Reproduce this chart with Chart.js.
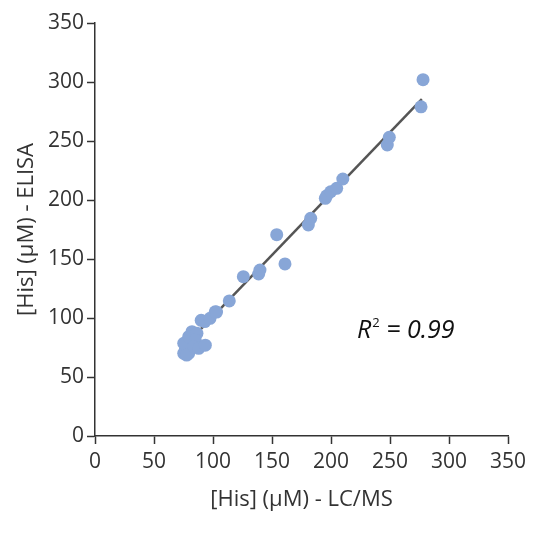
<!DOCTYPE html>
<html>
<head>
<meta charset="utf-8">
<script src="https://cdn.jsdelivr.net/npm/chart.js@4"></script>
<style>
  html, body { margin: 0; padding: 0; background: #fff; }
  #wrap { width: 552px; height: 541px; }
</style>
</head>
<body>
<div id="wrap"><canvas id="myChart" width="552" height="541"></canvas></div>
<script>
// values
const lcmsValues = [75.2, 76.6, 79.4, 75.2, 77.7, 79.4, 82.2, 86.4, 85.0, 83.6, 87.9, 93.5,
  90.0, 93.0, 97.5, 101.9, 103.0, 113.8, 125.7, 138.7, 139.8, 154.0, 161.0,
  180.8, 182.8, 195.2, 196.3, 199.7, 204.8, 210.0, 247.7, 249.4, 276.3, 278.0];
const elisaValues = [70.1, 72.9, 70.1, 78.6, 68.6, 84.2, 88.4, 87.0, 81.4, 75.7, 74.3, 77.0,
  98.0, 97.0, 99.7, 105.3, 105.0, 114.5, 135.0, 137.3, 140.7, 170.6, 145.8,
  178.8, 184.5, 201.4, 203.6, 207.0, 209.9, 217.8, 246.6, 253.1, 279.0, 302.0];
const fitX = [75, 277];
const fitY = [75.4, 285.5];
const tickValues = [0, 50, 100, 150, 200, 250, 300, 350];
const xTitle = '[His] (\u00b5M) - LC/MS';
const yTitle = '[His] (\u00b5M) - ELISA';

const pointColor = '#88a6d7';
const axisColor = '#333333';
const fontFamily = '"Open Sans", "Noto Sans", sans-serif';

const scatterData = lcmsValues.map((x, i) => ({ x: x, y: elisaValues[i] }));
const fitData = fitX.map((x, i) => ({ x: x, y: fitY[i] }));

// R² label drawn at a data position
const r2Label = {
  id: 'r2Label',
  afterDatasetsDraw(chart) {
    const ctx = chart.ctx;
    const px = chart.scales.x.getPixelForValue(222);
    const py = chart.scales.y.getPixelForValue(89);
    ctx.save();
    ctx.fillStyle = '#111';
    ctx.textBaseline = 'middle';
    ctx.textAlign = 'left';
    ctx.font = 'italic 25px ' + fontFamily;
    ctx.fillText('R', px, py);
    let w = ctx.measureText('R').width;
    ctx.font = '13px ' + fontFamily;
    ctx.fillText('2', px + w + 1, py - 8);
    w += ctx.measureText('2').width + 1;
    ctx.font = 'italic 25px ' + fontFamily;
    ctx.fillText(' = 0.99', px + w, py);
    ctx.restore();
  }
};

const axisCommon = {
  type: 'linear',
  min: 0,
  max: 350,
  afterBuildTicks: (scale) => { scale.ticks = tickValues.map(v => ({ value: v })); },
  border: { display: true, color: axisColor, width: 1.5 },
  grid: { display: true, drawOnChartArea: false, drawTicks: true, tickLength: 8, tickColor: axisColor, tickWidth: 1.5 },
  ticks: { color: axisColor, font: { family: fontFamily, size: 21 } }
};

const chartConfig = {
  type: 'scatter',
  data: {
    datasets: [
      {
        label: 'samples',
        data: scatterData,
        backgroundColor: pointColor,
        borderWidth: 0,
        pointRadius: 6.5,
        order: 1
      },
      {
        type: 'line',
        label: 'fit',
        data: fitData,
        borderColor: '#555555',
        borderWidth: 2.5,
        pointRadius: 0,
        fill: false,
        order: 2
      }
    ]
  },
  options: {
    responsive: false,
    animation: false,
    layout: { padding: { left: 0, top: 23, right: 44, bottom: 0 } },
    plugins: { legend: { display: false }, tooltip: { enabled: false } },
    scales: {
      x: Object.assign({}, axisCommon, {
        position: 'bottom',
        afterFit: (s) => { s.height = 105; },
        ticks: Object.assign({}, axisCommon.ticks, { padding: 5 }),
        title: { display: true, text: xTitle, color: axisColor, font: { family: fontFamily, size: 22 }, padding: { top: 0, bottom: 28 } }
      }),
      y: Object.assign({}, axisCommon, {
        position: 'left',
        afterFit: (s) => { s.width = 95; },
        ticks: Object.assign({}, axisCommon.ticks, { padding: 3 }),
        title: { display: true, text: yTitle, color: axisColor, font: { family: fontFamily, size: 22 }, padding: { top: 14, bottom: 0 } }
      })
    }
  },
  plugins: [r2Label]
};

const chartCanvas = document.getElementById('myChart');
const myChart = new Chart(chartCanvas.getContext('2d'), chartConfig);
</script>
</body>
</html>
